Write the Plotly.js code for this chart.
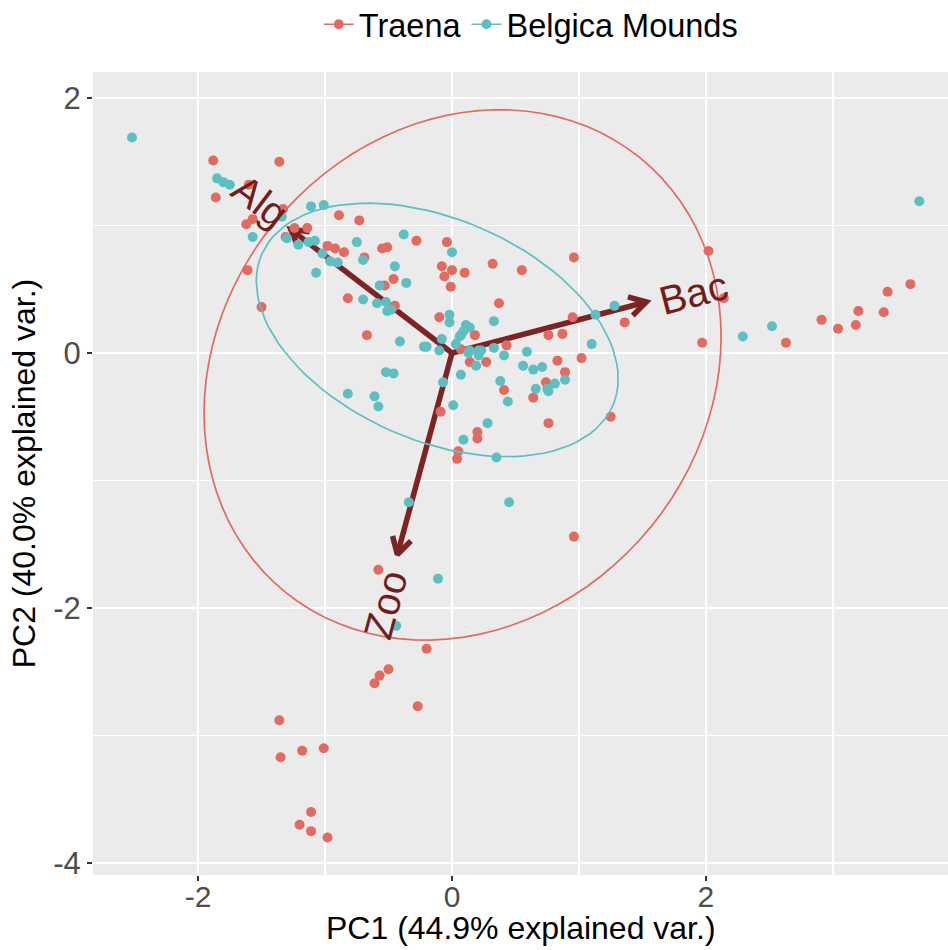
<!DOCTYPE html>
<html>
<head>
<meta charset="utf-8">
<script src="https://cdn.plot.ly/plotly-3.0.1.min.js"></script>
<style>html,body{margin:0;padding:0;background:#fff;}#chart{width:948px;height:950px;}</style>
</head>
<body>
<div id="chart"></div>
<script>
// ---- data ----
const groupNames = ['Traena', 'Belgica Mounds'];

const traenaX = [-1.88,-1.36,-1.86,-1.60,-1.62,-1.57,-1.33,-1.61,-1.50,-0.89,-0.73,-1.24,-1.14,-1.31,-0.98,-0.92,-0.85,-0.69,-0.55,-0.51,
  -0.53,-0.82,-0.67,-0.28,-0.04,-0.46,-0.08,0.00,-0.06,0.10,-0.01,0.32,0.55,0.96,0.37,-0.45,-0.10,0.18,0.07,0.43,
  0.14,0.27,0.76,0.87,0.95,1.36,1.02,0.83,0.89,0.74,0.64,0.41,0.76,1.25,0.20,0.20,-0.09,0.05,0.04,0.96,
  -0.58,-0.20,-0.50,-0.57,-0.61,-0.27,-1.36,-1.35,-1.18,-1.01,-1.11,-1.20,-1.11,-0.98,2.02,2.14,1.97,2.63,2.91,3.04,
  3.18,3.20,3.40,3.43,3.61];
const traenaY = [1.51,1.50,1.22,1.32,1.01,1.05,1.13,0.65,0.36,1.08,1.04,0.98,0.98,0.91,0.84,0.82,0.79,0.75,0.82,0.83,
  0.53,0.43,0.14,0.88,0.87,0.58,0.68,0.65,0.60,0.63,0.52,0.70,0.65,0.75,0.39,0.37,0.28,0.14,0.03,0.06,
  -0.07,-0.07,0.14,0.15,0.28,0.24,-0.04,-0.06,-0.15,-0.23,-0.35,-0.29,-0.55,-0.50,-0.62,-0.67,-0.46,-0.77,-0.83,-1.44,
  -1.70,-2.32,-2.48,-2.53,-2.59,-2.77,-2.88,-3.17,-3.12,-3.10,-3.60,-3.70,-3.75,-3.80,0.80,0.43,0.08,0.08,0.26,0.19,
  0.22,0.33,0.32,0.48,0.54];

const belgicaX = [-2.52,-1.85,-1.80,-1.75,-1.34,-1.57,-1.11,-1.01,-1.30,-1.21,-1.13,-1.08,-1.02,-0.96,-0.90,-1.07,-0.75,-0.70,-0.57,-0.70,
  -0.59,-0.52,-0.51,-0.48,-0.38,0.00,-0.45,-0.36,-0.02,-0.02,0.11,0.14,0.09,0.07,0.06,0.33,-0.08,-0.41,-0.22,-0.20,
  -0.10,0.03,0.14,0.13,0.21,0.23,0.21,0.33,0.41,0.59,0.19,0.07,0.56,0.64,0.71,1.13,1.28,1.10,0.89,0.81,
  0.75,0.76,0.66,0.38,0.44,0.28,0.09,-0.82,-0.61,-0.58,-0.52,-0.46,-0.07,0.01,0.35,-0.34,0.45,-0.11,-0.44,2.29,
  2.52,3.68];
const belgicaY = [1.69,1.37,1.34,1.32,1.07,0.91,1.15,1.16,0.90,0.85,0.87,0.88,0.78,0.72,0.71,0.63,0.87,0.73,0.53,0.42,
  0.39,0.40,0.33,0.34,0.93,0.79,0.68,0.55,0.30,0.24,0.22,0.20,0.17,0.14,0.13,0.25,0.11,0.09,0.05,0.05,
  0.02,0.07,0.02,0.00,0.02,0.02,-0.02,0.04,-0.02,0.01,-0.10,-0.17,-0.10,-0.13,-0.11,0.30,0.37,0.07,-0.21,-0.24,
  -0.28,-0.30,-0.28,-0.22,-0.38,-0.55,-0.68,-0.32,-0.34,-0.42,-0.15,-0.16,-0.23,-0.41,-0.82,-1.17,-1.17,-1.77,-2.14,0.13,
  0.21,1.19];

const varNames = ['Alg', 'Bac', 'Zoo'];
const loadX = [-1.27, 1.53, -0.43];
const loadY = [0.97, 0.40, -1.58];
const labelX = [-1.51, 1.90, -0.52];
const labelY = [1.19, 0.47, -1.97];

const xTickVals = [-2, 0, 2];
const yTickVals = [-4, -2, 0, 2];
const xTitle = 'PC1 (44.9% explained var.)';
const yTitle = 'PC2 (40.0% explained var.)';

// ---- styling ----
const colTraena = '#E26A60';
const colBelgica = '#5EBFC3';
const colArrow = '#7E2323';
const colLabel = '#731C1C';
const FONT = 'Liberation Sans, Arial, Helvetica, sans-serif';

// 68% normal concentration ellipse (as in ggbiplot)
function ellipse(xs, ys, prob) {
  const n = xs.length;
  const mx = xs.reduce((a, b) => a + b, 0) / n;
  const my = ys.reduce((a, b) => a + b, 0) / n;
  let sxx = 0, syy = 0, sxy = 0;
  for (let i = 0; i < n; i++) {
    sxx += (xs[i] - mx) ** 2; syy += (ys[i] - my) ** 2; sxy += (xs[i] - mx) * (ys[i] - my);
  }
  sxx /= (n - 1); syy /= (n - 1); sxy /= (n - 1);
  const r11 = Math.sqrt(sxx), r12 = sxy / r11, r22 = Math.sqrt(syy - r12 * r12);
  const ed = Math.sqrt(-2 * Math.log(1 - prob));
  const ex = [], ey = [];
  const m = 100;
  for (let k = 0; k <= m; k++) {
    const t = -Math.PI + 2 * Math.PI * k / m;
    const c = Math.cos(t), s = Math.sin(t);
    ex.push(c * r11 * ed + mx);
    ey.push((c * r12 + s * r22) * ed + my);
  }
  return { x: ex, y: ey };
}

const traces = [];

// arrows (drawn first, under points)
const headLen = 0.15, headAng = 30 * Math.PI / 180;
for (let i = 0; i < varNames.length; i++) {
  const tx = loadX[i], ty = loadY[i];
  const a = Math.atan2(ty, tx);
  const b1x = tx - headLen * Math.cos(a - headAng), b1y = ty - headLen * Math.sin(a - headAng);
  const b2x = tx - headLen * Math.cos(a + headAng), b2y = ty - headLen * Math.sin(a + headAng);
  traces.push({
    type: 'scatter', mode: 'lines',
    x: [0, tx, null, b1x, tx, b2x], y: [0, ty, null, b1y, ty, b2y],
    line: { color: colArrow, width: 5.5 }, showlegend: false, hoverinfo: 'skip'
  });
}

// points
traces.push({ type: 'scatter', mode: 'markers', x: traenaX, y: traenaY, name: groupNames[0],
  marker: { color: colTraena, size: 10, line: { width: 0 } }, showlegend: false, legendgroup: 'g1' });
traces.push({ type: 'scatter', mode: 'markers', x: belgicaX, y: belgicaY, name: groupNames[1],
  marker: { color: colBelgica, size: 10, line: { width: 0 } }, showlegend: false, legendgroup: 'g2' });

// ellipses
const e1 = ellipse(traenaX, traenaY, 0.68);
const e2 = ellipse(belgicaX, belgicaY, 0.68);
traces.push({ type: 'scatter', mode: 'lines', x: e1.x, y: e1.y, line: { color: colTraena, width: 1.7 },
  showlegend: false, legendgroup: 'g1' });
traces.push({ type: 'scatter', mode: 'lines', x: e2.x, y: e2.y, line: { color: colBelgica, width: 1.7 },
  showlegend: false, legendgroup: 'g2' });

// legend entries (line + point keys)
traces.push({ type: 'scatter', mode: 'lines+markers', x: [null], y: [null], name: groupNames[0],
  line: { color: colTraena, width: 1.7 }, marker: { color: colTraena, size: 10 }, legendgroup: 'g1' });
traces.push({ type: 'scatter', mode: 'lines+markers', x: [null], y: [null], name: groupNames[1],
  line: { color: colBelgica, width: 1.7 }, marker: { color: colBelgica, size: 10 }, legendgroup: 'g2' });

// variable labels
const annotations = varNames.map((v, i) => ({
  x: labelX[i], y: labelY[i], xref: 'x', yref: 'y', text: v, showarrow: false,
  textangle: -Math.atan(loadY[i] / loadX[i]) * 180 / Math.PI,
  font: { family: FONT, size: 40, color: colLabel }, xanchor: 'center', yanchor: 'middle'
}));
// x axis title placed as paper annotation (exact vertical position)
annotations.push({
  xref: 'paper', yref: 'paper', x: 0.5, y: -0.066, xanchor: 'center', yanchor: 'middle',
  text: xTitle, showarrow: false, font: { family: FONT, size: 32, color: '#000' }
});

const layout = {
  width: 948, height: 950,
  paper_bgcolor: '#ffffff', plot_bgcolor: '#EBEBEB',
  margin: { l: 93, r: 0, t: 72, b: 75, pad: 0, autoexpand: false },
  font: { family: FONT, color: '#000' },
  showlegend: true,
  legend: {
    orientation: 'h', x: 0.512, xanchor: 'center', y: 1.059, yanchor: 'middle',
    font: { family: FONT, size: 32.5, color: '#000' }, bgcolor: 'rgba(0,0,0,0)',
    itemwidth: 30, tracegroupgap: 0
  },
  xaxis: {
    range: [-2.827, 3.906], autorange: false,
    tickvals: xTickVals, ticktext: xTickVals.map(String),
    ticks: 'outside', ticklen: 5, tickwidth: 1.5, tickcolor: '#333333',
    ticklabelstandoff: -10,
    tickfont: { family: FONT, size: 30, color: '#4D4D4D' },
    showgrid: true, gridcolor: '#FFFFFF', gridwidth: 2,
    minor: { dtick: 1, tick0: 1, showgrid: true, gridcolor: '#FFFFFF', gridwidth: 1.2, ticks: '' },
    zeroline: false, showline: false, automargin: false
  },
  yaxis: {
    range: [-4.094, 2.204], autorange: false,
    tickvals: yTickVals, ticktext: yTickVals.map(String),
    ticks: 'outside', ticklen: 5, tickwidth: 1.5, tickcolor: '#333333',
    tickfont: { family: FONT, size: 31, color: '#4D4D4D' },
    showgrid: true, gridcolor: '#FFFFFF', gridwidth: 2,
    minor: { dtick: 1, tick0: 1, showgrid: true, gridcolor: '#FFFFFF', gridwidth: 1.2, ticks: '' },
    zeroline: false, showline: false, automargin: false,
    title: { text: yTitle, font: { family: FONT, size: 32, color: '#000' }, standoff: 8 }
  },
  annotations: annotations,
  hovermode: false
};

Plotly.newPlot('chart', traces, layout, { displayModeBar: false, staticPlot: true });
</script>
</body>
</html>
